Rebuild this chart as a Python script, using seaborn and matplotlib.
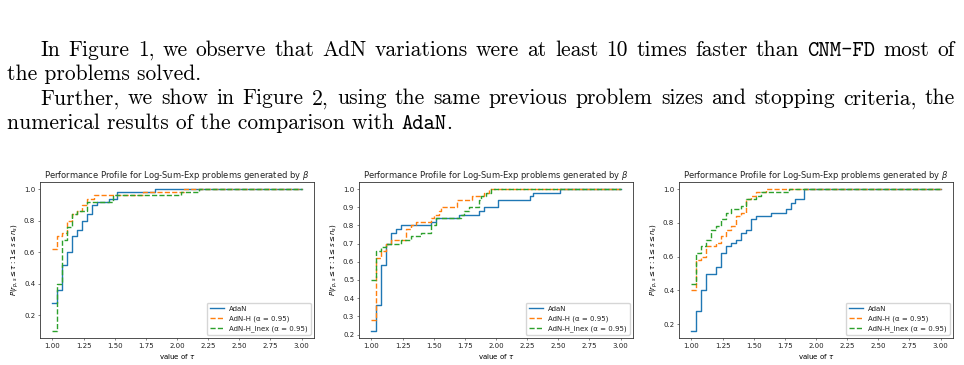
import matplotlib
matplotlib.use("Agg")
import matplotlib.pyplot as plt
import seaborn as sns

# performance profile data, one block per subplot (tau breakpoints, fraction solved)
tau_adan_1 = [1.00, 1.04, 1.08, 1.12, 1.16, 1.20, 1.24, 1.28, 1.32, 1.36, 1.45, 1.52, 1.82, 3.00]
rho_adan_1 = [0.28, 0.36, 0.52, 0.60, 0.70, 0.74, 0.80, 0.84, 0.90, 0.92, 0.94, 0.98, 1.00, 1.00]
tau_adnh_1 = [1.00, 1.04, 1.08, 1.12, 1.16, 1.20, 1.24, 1.28, 1.33, 1.73, 2.06, 3.00]
rho_adnh_1 = [0.62, 0.70, 0.72, 0.80, 0.84, 0.86, 0.90, 0.94, 0.96, 0.98, 1.00, 1.00]
tau_inex_1 = [1.00, 1.04, 1.08, 1.12, 1.16, 1.20, 1.28, 1.49, 2.03, 2.18, 3.00]
rho_inex_1 = [0.10, 0.40, 0.68, 0.76, 0.84, 0.86, 0.92, 0.96, 0.98, 1.00, 1.00]

tau_adan_2 = [1.00, 1.04, 1.08, 1.12, 1.16, 1.20, 1.24, 1.48, 1.52, 1.70, 1.86, 1.90, 2.02, 2.27, 2.30, 2.51, 3.00]
rho_adan_2 = [0.22, 0.36, 0.58, 0.70, 0.76, 0.78, 0.80, 0.82, 0.84, 0.86, 0.88, 0.90, 0.94, 0.96, 0.98, 1.00, 1.00]
tau_adnh_2 = [1.00, 1.04, 1.08, 1.12, 1.16, 1.28, 1.32, 1.36, 1.48, 1.50, 1.54, 1.56, 1.69, 1.81, 1.90, 1.94, 3.00]
rho_adnh_2 = [0.28, 0.62, 0.66, 0.70, 0.72, 0.78, 0.80, 0.82, 0.84, 0.86, 0.88, 0.90, 0.94, 0.96, 0.98, 1.00, 1.00]
tau_inex_2 = [1.00, 1.04, 1.08, 1.12, 1.24, 1.32, 1.40, 1.48, 1.52, 1.72, 1.74, 1.78, 1.86, 1.88, 1.92, 1.96, 3.00]
rho_inex_2 = [0.50, 0.66, 0.68, 0.70, 0.72, 0.74, 0.76, 0.80, 0.84, 0.86, 0.88, 0.90, 0.94, 0.96, 0.98, 1.00, 1.00]

tau_adan_3 = [1.00, 1.04, 1.08, 1.12, 1.20, 1.24, 1.28, 1.32, 1.36, 1.40, 1.44, 1.48, 1.52, 1.64, 1.76, 1.80, 1.83, 1.90, 3.00]
rho_adan_3 = [0.16, 0.28, 0.40, 0.50, 0.54, 0.62, 0.66, 0.68, 0.70, 0.74, 0.76, 0.82, 0.84, 0.86, 0.88, 0.92, 0.94, 1.00, 1.00]
tau_adnh_3 = [1.00, 1.04, 1.08, 1.12, 1.20, 1.24, 1.28, 1.32, 1.36, 1.40, 1.44, 1.48, 1.52, 1.60, 3.00]
rho_adnh_3 = [0.40, 0.58, 0.60, 0.66, 0.68, 0.72, 0.76, 0.78, 0.84, 0.86, 0.94, 0.96, 0.98, 1.00, 1.00]
tau_inex_3 = [1.00, 1.04, 1.08, 1.12, 1.16, 1.20, 1.24, 1.28, 1.32, 1.40, 1.44, 1.52, 1.56, 1.78, 3.00]
rho_inex_3 = [0.44, 0.62, 0.66, 0.70, 0.76, 0.78, 0.82, 0.86, 0.88, 0.90, 0.94, 0.96, 0.98, 1.00, 1.00]

labels = ["AdaN", "AdN-H (α = 0.95)", "AdN-H_Inex (α = 0.95)"]
xticks = [1.00, 1.25, 1.50, 1.75, 2.00, 2.25, 2.50, 2.75, 3.00]
yticks_1 = [0.2, 0.4, 0.6, 0.8, 1.0]
yticks_2 = [0.2, 0.3, 0.4, 0.5, 0.6, 0.7, 0.8, 0.9, 1.0]
yticks_3 = [0.2, 0.4, 0.6, 0.8, 1.0]

title = r"Performance Profile for Log-Sum-Exp problems generated by $\beta$"
ylab = r"$P(r_{p,s} \leq \tau : 1 \leq s \leq n_s)$"
xlab = r"value of $\tau$"

W, H = 964, 365
S = 0.5  # the figures were shrunk to roughly half size in the page
plt.rcParams.update({
    "font.size": 10 * S,
    "axes.titlesize": 12 * S,
    "axes.titlepad": 6 * S,
    "axes.labelpad": 4 * S,
    "axes.linewidth": 1.2 * S,
    "axes.edgecolor": "#333333",
    "xtick.major.size": 3.5 * S,
    "ytick.major.size": 3.5 * S,
    "xtick.major.width": 0.8 * S,
    "ytick.major.width": 0.8 * S,
    "xtick.major.pad": 3.5 * S,
    "ytick.major.pad": 3.5 * S,
    "legend.fontsize": 10 * S,
    "text.color": "#222222",
    "xtick.color": "#222222",
    "ytick.color": "#222222",
})

fig = plt.figure(figsize=(W / 100, H / 100), dpi=100)
renderer = fig.canvas.get_renderer()


def draw_line(tokens, x0, base, size, x1=None):
    # tokens: (text, family, space before). x1 given -> justify like LaTeX
    arts = [fig.text(0, 1 - base / H, t, family=f, fontsize=size, va="baseline", color="black")
            for t, f, _ in tokens]
    widths = [a.get_window_extent(renderer).width for a in arts]
    n_gaps = sum(1 for _, _, g in tokens[1:] if g)
    gap = size * 100 / 72 * 0.333
    if x1 is not None and n_gaps:
        gap = (x1 - x0 - sum(widths)) / n_gaps
    x = x0
    for i, (a, w) in enumerate(zip(arts, widths)):
        if i > 0 and tokens[i][2]:
            x += gap
        a.set_x(x / W)
        x += w


rm, tt = "cmr10", "cmtt10"
probe = fig.text(0, 0, "numerical results of the comparison with ", family=rm, fontsize=13)
probe2 = fig.text(0, 0, "AdaN", family=tt, fontsize=13)
probe3 = fig.text(0, 0, ".", family=rm, fontsize=13)
w_line4 = sum(p.get_window_extent(renderer).width for p in (probe, probe2, probe3))
for p in (probe, probe2, probe3):
    p.remove()
fs = 13 * 445 / w_line4

line1 = [(w, tt if w == "CNM-FD" else rm, True) for w in
         "In Figure 1, we observe that AdN variations were at least 10 times faster than CNM-FD most of".split()]
line3 = [(w, rm, True) for w in
         "Further, we show in Figure 2, using the same previous problem sizes and stopping criteria, the".split()]
draw_line(line1, 40.5, 55.5, fs, x1=955)
draw_line([("the problems solved.", rm, False)], 7, 80, fs)
draw_line(line3, 40.5, 104.5, fs, x1=955)
draw_line([("numerical results of the comparison with ", rm, False), ("AdaN", tt, False), (".", rm, False)],
          7, 129, fs)

panels = [
    (40, 314, [(tau_adan_1, rho_adan_1), (tau_adnh_1, rho_adnh_1), (tau_inex_1, rho_inex_1)], yticks_1),
    (359, 633, [(tau_adan_2, rho_adan_2), (tau_adnh_2, rho_adnh_2), (tau_inex_2, rho_inex_2)], yticks_2),
    (679, 953, [(tau_adan_3, rho_adan_3), (tau_adnh_3, rho_adnh_3), (tau_inex_3, rho_inex_3)], yticks_3),
]
colors = ["#1f77b4", "#ff7f0e", "#2ca02c"]
styles = ["-", "--", "--"]
top, bottom = 182, 338

for left, right, series, yt in panels:
    ax = fig.add_axes([left / W, 1 - bottom / H, (right - left) / W, (bottom - top) / H])
    for (tau, rho), lab, c, ls in zip(series, labels, colors, styles):
        sns.lineplot(x=tau, y=rho, ax=ax, label=lab, color=c, linestyle=ls,
                     drawstyle="steps-post", estimator=None, sort=False, linewidth=1.0)
    ax.set_xticks(xticks)
    ax.set_xticklabels([f"{v:.2f}" for v in xticks])
    ax.set_yticks(yt)
    ax.set_yticklabels([f"{v:.1f}" for v in yt])
    ax.set_title(title)
    ax.set_xlabel(xlab)
    ax.set_ylabel(ylab)
    ax.legend(loc="lower right", handlelength=2.0)

fig.savefig("out.png", dpi=100)
